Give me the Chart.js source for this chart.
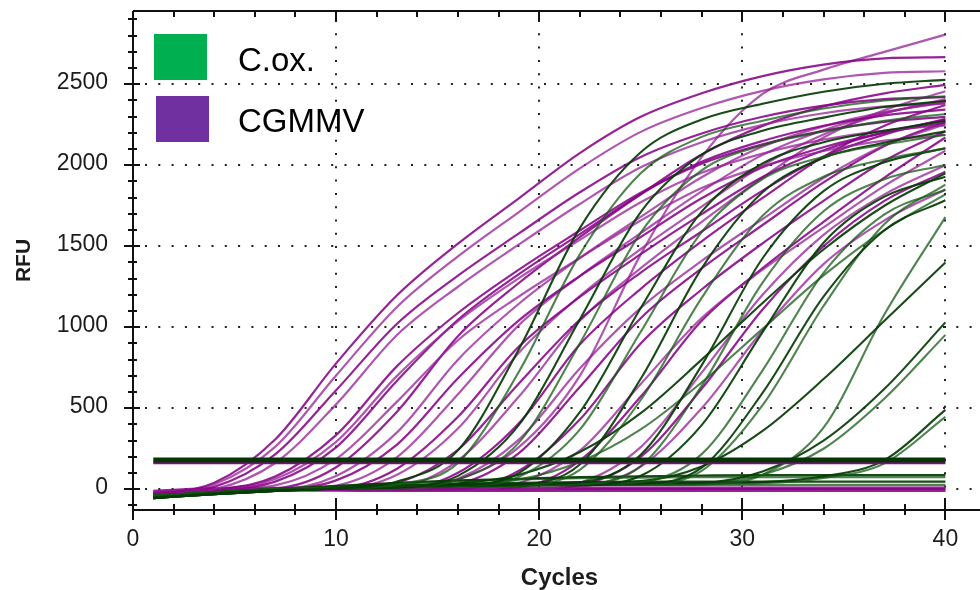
<!DOCTYPE html>
<html>
<head>
<meta charset="utf-8">
<script src="https://cdn.jsdelivr.net/npm/chart.js@4.4.1/dist/chart.umd.min.js"></script>
<style>
  html, body { margin: 0; padding: 0; background: #fff; }
  #wrap { width: 980px; height: 590px; overflow: hidden; }
  #rfuChart { display: block; }
</style>
</head>
<body>
<div id="wrap"><canvas id="rfuChart" width="1000" height="590"></canvas></div>
<script>
const cycles = [1, 4, 7, 10, 13, 16, 19, 22, 25, 28, 31, 34, 37, 40];
const xTickLabels = [0, 10, 20, 30, 40];
const yTickLabels = [0, 500, 1000, 1500, 2000, 2500];
const seriesNames = ['C.ox.', 'CGMMV'];
const thresholdCycles = [1, 40];
const coxThreshold = 181;
const cgmmvThreshold = 164;

// C.ox. (green) amplification curves, RFU at each cycle above
const coxCurves = [
    [-50, -25, -5, 5, 48, 240, 864, 1612, 2080, 2282, 2379, 2454, 2503, 2527],
    [-40, -20, 0, 5, 30, 163, 725, 1450, 1950, 2175, 2275, 2350, 2400, 2425],
    [-55, -30, -10, 5, 10, 83, 397, 1048, 1711, 2065, 2213, 2294, 2359, 2396],
    [-45, -20, 0, 10, 15, 60, 288, 900, 1584, 1968, 2124, 2208, 2274, 2316],
    [-50, -25, -5, 10, 20, 25, 100, 476, 1119, 1714, 2011, 2142, 2213, 2273],
    [-40, -20, 0, 10, 15, 20, 77, 368, 972, 1587, 1915, 2053, 2128, 2187],
    [-55, -30, -10, 5, 15, 20, 28, 153, 682, 1363, 1833, 2045, 2139, 2209],
    [-45, -25, -5, 5, 10, 15, 22, 120, 551, 1181, 1688, 1929, 2036, 2104],
    [-50, -25, -5, 10, 20, 25, 30, 43, 213, 765, 1426, 1840, 2018, 2105],
    [-40, -20, 0, 10, 15, 20, 25, 30, 143, 638, 1276, 1716, 1914, 2002],
    [-55, -30, -10, 5, 15, 20, 25, 25, 83, 396, 970, 1522, 1806, 1929],
    [-45, -20, 0, 10, 15, 20, 25, 30, 44, 217, 734, 1336, 1697, 1849],
    [-50, -25, -5, 5, 15, 20, 25, 30, 35, 133, 595, 1189, 1599, 1784],
    [-40, -20, 0, 10, 15, 20, 25, 30, 30, 113, 519, 1131, 1637, 1881],
    [-50, -25, -5, 10, 20, 35, 90, 230, 470, 800, 1150, 1480, 1750, 1950],
    [-45, -20, 0, 10, 20, 30, 60, 170, 370, 660, 990, 1320, 1600, 1820],
    [-50, -25, -5, 10, 20, 25, 30, 40, 50, 140, 360, 680, 1040, 1400],
    [-45, -20, 0, 10, 15, 20, 25, 25, 28, 30, 90, 380, 1080, 1680],
    [-55, -30, -10, 5, 15, 20, 25, 30, 35, 40, 110, 300, 620, 1030],
    [-50, -25, -5, 10, 15, 20, 25, 30, 30, 35, 90, 250, 560, 953],
    [-40, -20, 0, 10, 20, 25, 30, 35, 38, 40, 45, 80, 180, 490],
    [-45, -20, 0, 10, 15, 20, 25, 30, 32, 35, 38, 70, 160, 447],
    [-50, -25, 0, 20, 40, 55, 65, 75, 80, 85, 88, 88, 88, 88],
    [-40, -15, 5, 20, 35, 50, 60, 68, 72, 75, 75, 75, 75, 75],
    [-45, -20, 0, 15, 25, 35, 40, 45, 47, 47, 47, 47, 47, 47],
    [-55, -30, -10, 5, 15, 20, 25, 27, 27, 27, 27, 27, 27, 27]
];

// CGMMV (purple) amplification curves
const cgmmvCurves = [
    [-35, 40, 307, 777, 1197, 1516, 1796, 2075, 2299, 2444, 2550, 2621, 2660, 2667],
    [-40, 30, 262, 702, 1125, 1437, 1711, 1981, 2206, 2353, 2459, 2530, 2570, 2580],
    [-25, 15, 215, 611, 1022, 1319, 1579, 1833, 2051, 2196, 2299, 2368, 2408, 2420],
    [-30, 0, 162, 524, 952, 1250, 1511, 1761, 1987, 2142, 2249, 2321, 2363, 2380],
    [-45, -5, 78, 334, 760, 1088, 1356, 1597, 1831, 2010, 2129, 2213, 2268, 2298],
    [-20, 0, 63, 293, 700, 1037, 1303, 1539, 1771, 1953, 2072, 2158, 2214, 2246],
    [-35, -5, 47, 259, 670, 1046, 1328, 1575, 1821, 2021, 2150, 2244, 2308, 2343],
    [-15, 0, 24, 187, 541, 920, 1190, 1428, 1659, 1859, 1993, 2088, 2152, 2188],
    [-40, -5, 5, 136, 479, 945, 1273, 1556, 1821, 2066, 2243, 2363, 2444, 2496],
    [-25, 0, 0, 82, 351, 800, 1145, 1427, 1681, 1926, 2115, 2240, 2328, 2386],
    [-50, -10, 0, 55, 276, 685, 1042, 1316, 1557, 1796, 1987, 2111, 2201, 2261],
    [-20, 0, 0, 23, 198, 587, 1013, 1316, 1581, 1839, 2064, 2216, 2323, 2394],
    [-35, -5, 0, 6, 127, 447, 881, 1187, 1451, 1698, 1927, 2092, 2203, 2280],
    [-30, -5, 0, 2, 90, 375, 843, 1193, 1483, 1745, 1998, 2190, 2318, 2408],
    [-45, -10, 0, 0, 38, 244, 653, 1046, 1337, 1591, 1843, 2052, 2189, 2287],
    [-20, 0, 0, 0, 13, 177, 572, 1040, 1365, 1651, 1924, 2171, 2340, 2457],
    [-40, -5, 0, 0, 0, 102, 408, 893, 1237, 1530, 1798, 2053, 2244, 2372],
    [-30, 0, 0, 0, 0, 64, 306, 746, 1120, 1410, 1667, 1921, 2122, 2253],
    [-50, -10, 0, 0, 0, 31, 223, 631, 1056, 1363, 1631, 1894, 2119, 2269],
    [-30, 0, 0, 0, 0, 60, 260, 700, 1450, 2050, 2440, 2590, 2700, 2806],
    [-20, 0, 0, 0, 0, 0, 114, 430, 900, 1233, 1518, 1780, 2028, 2210],
    [-35, -5, 0, 0, 0, 0, 38, 238, 650, 1057, 1355, 1616, 1873, 2089],
    [-45, -5, 0, 0, 0, 0, 13, 177, 572, 1040, 1365, 1651, 1924, 2171],
    [-25, 0, 0, 0, 0, 0, 0, 40, 260, 720, 1200, 1570, 1820, 2000],
    [-30, -5, 0, 0, 0, 0, 0, 25, 200, 620, 1110, 1500, 1780, 1960],
    [-40, -5, 0, 0, 0, 0, 0, 15, 140, 500, 980, 1390, 1660, 1850],
    [-40, -8, 0, 2, 3, 3, 3, 3, 3, 3, 3, 3, 3, 3],
    [-20, -5, -3, -4, -5, -5, -5, -5, -5, -5, -5, -5, -5, -5],
    [-55, -15, -8, -9, -10, -10, -10, -10, -10, -10, -10, -10, -10, -10],
    [-30, 2, 8, 10, 12, 12, 12, 12, 12, 12, 12, 12, 12, 12],
    [-10, 5, 5, 5, 6, 6, 6, 6, 6, 6, 6, 6, 6, 6]
];

const FONT = '"Liberation Sans", Arial, sans-serif';
const TEXT = '#1c1c1c';

function toPoints(vals) {
    return vals.map((v, i) => ({ x: cycles[i], y: v }));
}

const datasets = [];
datasets.push({
    label: seriesNames[0] + ' threshold',
    data: thresholdCycles.map(c => ({ x: c, y: coxThreshold })),
    borderColor: '#053505',
    borderWidth: 5,
    tension: 0
});
datasets.push({
    label: seriesNames[1] + ' threshold',
    data: thresholdCycles.map(c => ({ x: c, y: cgmmvThreshold })),
    borderColor: '#8b068b',
    borderWidth: 3,
    tension: 0
});
coxCurves.forEach((vals, i) => {
    datasets.push({
        label: seriesNames[0],
        data: toPoints(vals),
        borderColor: i % 2 ? 'rgba(20,90,20,0.75)' : 'rgba(5,60,5,0.92)',
        borderWidth: 2.1,
        cubicInterpolationMode: 'monotone'
    });
});
cgmmvCurves.forEach((vals, i) => {
    datasets.push({
        label: seriesNames[1],
        data: toPoints(vals),
        borderColor: i % 2 ? 'rgba(148,30,148,0.75)' : 'rgba(135,5,135,0.88)',
        borderWidth: 2.2,
        cubicInterpolationMode: 'monotone'
    });
});

// dotted grid, axis frame with tick marks, and the legend boxes
const axisDecor = {
    id: 'axisDecor',
    beforeDatasetsDraw(chart) {
        const { ctx, chartArea: a, scales: { x, y } } = chart;
        ctx.save();
        ctx.strokeStyle = '#222';
        ctx.lineWidth = 2;
        ctx.setLineDash([2, 11.3]);
        yTickLabels.forEach(v => {
            const py = Math.round(y.getPixelForValue(v));
            ctx.beginPath();
            ctx.moveTo(a.left + 12, py);
            ctx.lineTo(chart.width, py);
            ctx.stroke();
        });
        xTickLabels.slice(1).forEach(v => {
            const px = Math.round(x.getPixelForValue(v));
            ctx.beginPath();
            ctx.moveTo(px, a.top + 9);
            ctx.lineTo(px, a.bottom);
            ctx.stroke();
        });
        ctx.restore();
    },
    afterDraw(chart) {
        const { ctx, chartArea: a, scales: { x, y } } = chart;
        ctx.save();
        ctx.strokeStyle = '#111';
        ctx.lineWidth = 2;
        ctx.setLineDash([]);
        ctx.beginPath();
        ctx.moveTo(a.left, a.top);
        ctx.lineTo(a.left, a.bottom);
        ctx.moveTo(a.left, a.bottom);
        ctx.lineTo(chart.width, a.bottom);
        ctx.moveTo(a.left, a.top);
        ctx.lineTo(chart.width, a.top);
        ctx.stroke();

        // y ticks every 100, longer ones every 500
        for (let v = -100; v <= 2900; v += 100) {
            const py = Math.round(y.getPixelForValue(v));
            const big = v % 500 === 0;
            ctx.beginPath();
            ctx.moveTo(a.left - (big ? 9 : 5), py);
            ctx.lineTo(a.left + (big ? 7 : 4), py);
            ctx.stroke();
        }
        // x ticks every 2 cycles on bottom and top
        for (let c = 0; c <= 42; c += 2) {
            const px = Math.round(x.getPixelForValue(c));
            const big = c % 10 === 0;
            ctx.beginPath();
            ctx.moveTo(px, a.bottom - (big ? 12 : 6));
            ctx.lineTo(px, a.bottom + (big ? 10 : 5));
            ctx.moveTo(px, a.top);
            ctx.lineTo(px, a.top + (big ? 10 : 6));
            ctx.stroke();
        }

        // legend
        ctx.fillStyle = '#00b050';
        ctx.fillRect(154, 34, 53, 46);
        ctx.fillStyle = '#7030a0';
        ctx.fillRect(156, 96, 53, 46);
        ctx.fillStyle = '#000';
        ctx.font = '33px ' + FONT;
        ctx.textBaseline = 'alphabetic';
        ctx.textAlign = 'left';
        ctx.fillText(seriesNames[0], 238, 71);
        ctx.fillText(seriesNames[1], 238, 132);
        ctx.restore();
    }
};

new Chart(document.getElementById('rfuChart'), {
    type: 'line',
    data: { datasets: datasets },
    options: {
        responsive: false,
        maintainAspectRatio: false,
        animation: false,
        events: [],
        layout: { padding: { left: 0, right: 14, top: 11, bottom: 0 } },
        elements: { point: { radius: 0 } },
        plugins: { legend: { display: false }, tooltip: { enabled: false } },
        scales: {
            x: {
                type: 'linear',
                min: 0,
                max: 42,
                afterFit: s => { s.height = 80; s.paddingLeft = 0; s.paddingRight = 0; },
                afterBuildTicks: s => { s.ticks = xTickLabels.map(v => ({ value: v })); },
                grid: { display: false, drawTicks: false },
                border: { display: false },
                ticks: {
                    padding: 16,
                    color: TEXT,
                    font: { family: FONT, size: 23 },
                    maxRotation: 0,
                    callback: v => `${v}`
                },
                title: {
                    display: true,
                    text: 'Cycles',
                    color: TEXT,
                    font: { family: FONT, size: 24, weight: 'bold', lineHeight: 1 },
                    padding: { top: 0, bottom: 0 }
                }
            },
            y: {
                type: 'linear',
                min: -128,
                max: 2952,
                afterFit: s => { s.width = 133; s.paddingTop = 0; s.paddingBottom = 0; },
                afterBuildTicks: s => { s.ticks = yTickLabels.map(v => ({ value: v })); },
                grid: { display: false, drawTicks: false },
                border: { display: false },
                ticks: {
                    padding: 25,
                    labelOffset: -2,
                    color: TEXT,
                    font: { family: FONT, size: 23 },
                    callback: v => `${v}`
                },
                title: {
                    display: true,
                    text: 'RFU',
                    color: TEXT,
                    font: { family: FONT, size: 21, weight: 'bold', lineHeight: 1 },
                    padding: { top: 14, bottom: 0 }
                }
            }
        }
    },
    plugins: [axisDecor]
});
</script>
</body>
</html>
